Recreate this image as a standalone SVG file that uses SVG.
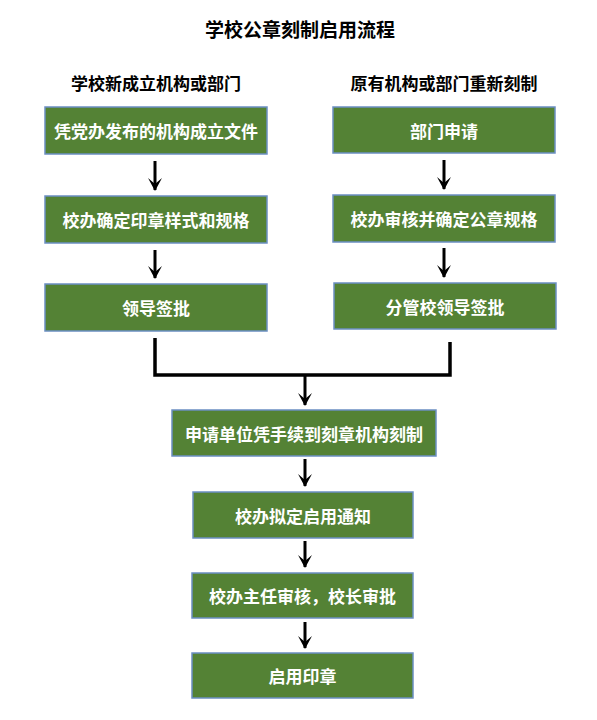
<svg xmlns="http://www.w3.org/2000/svg" width="597" height="720" viewBox="0 0 597 720">
<defs>
<style>
.box{fill:#548235;stroke:#6b8fc2;stroke-width:1.5}
.bt{fill:#ffffff;font-family:"Noto Sans CJK SC","Noto Sans",sans-serif;font-weight:bold;font-size:17px;text-anchor:middle;dominant-baseline:central}
.hd{fill:#000000;font-family:"Noto Sans CJK SC","Noto Sans",sans-serif;font-weight:bold;text-anchor:middle;dominant-baseline:central}
.ln{fill:none;stroke:#000000;stroke-width:3.5}
.ar{fill:none;stroke:#000000;stroke-width:3}
</style>
<marker id="ah" markerWidth="14" markerHeight="16" refX="13" refY="8" orient="auto" markerUnits="userSpaceOnUse" viewBox="0 0 14 16">
<path d="M1,1 L7,8 L1,15 L14,8 Z" fill="#000000"/>
</marker>
</defs>
<text class="hd" x="300" y="28" font-size="19">学校公章刻制启用流程</text>
<text class="hd" x="156" y="82" font-size="17">学校新成立机构或部门</text>
<text class="hd" x="444" y="82" font-size="17">原有机构或部门重新刻制</text>

<g id="n1"><rect class="box" x="45" y="107" width="222" height="47"/><text class="bt" x="156" y="130.5">凭党办发布的机构成立文件</text></g>
<g id="n2"><rect class="box" x="45" y="196" width="222" height="47"/><text class="bt" x="156" y="219.5">校办确定印章样式和规格</text></g>
<g id="n3"><rect class="box" x="45" y="284" width="222" height="47"/><text class="bt" x="156" y="307.5">领导签批</text></g>
<g id="n4"><rect class="box" x="333" y="107" width="222" height="46"/><text class="bt" x="444" y="130">部门申请</text></g>
<g id="n5"><rect class="box" x="333" y="195" width="222" height="47"/><text class="bt" x="444" y="218.5">校办审核并确定公章规格</text></g>
<g id="n6"><rect class="box" x="334" y="283" width="222" height="46"/><text class="bt" x="445" y="306">分管校领导签批</text></g>
<g id="n7"><rect class="box" x="172" y="410" width="264" height="46"/><text class="bt" x="304" y="433">申请单位凭手续到刻章机构刻制</text></g>
<g id="n8"><rect class="box" x="193" y="492" width="220" height="46"/><text class="bt" x="303" y="515">校办拟定启用通知</text></g>
<g id="n9"><rect class="box" x="192" y="573" width="221" height="45"/><text class="bt" x="302.5" y="595.5">校办主任审核，校长审批</text></g>
<g id="n10"><rect class="box" x="192" y="653" width="221" height="45"/><text class="bt" x="302.5" y="675.5">启用印章</text></g>

<g id="connectors">
<line class="ar" x1="155" y1="161" x2="155" y2="190" marker-end="url(#ah)"/>
<line class="ar" x1="155" y1="250" x2="155" y2="278" marker-end="url(#ah)"/>
<line class="ar" x1="444" y1="160" x2="444" y2="189" marker-end="url(#ah)"/>
<line class="ar" x1="444" y1="248" x2="444" y2="277" marker-end="url(#ah)"/>
<polyline class="ln" points="155,338 155,375 450,375 450,342"/>
<line class="ar" x1="305" y1="375" x2="305" y2="405" marker-end="url(#ah)"/>
<line class="ar" x1="305" y1="459" x2="305" y2="486" marker-end="url(#ah)"/>
<line class="ar" x1="305" y1="541" x2="305" y2="567" marker-end="url(#ah)"/>
<line class="ar" x1="305" y1="622" x2="305" y2="648" marker-end="url(#ah)"/>
</g>
</svg>
